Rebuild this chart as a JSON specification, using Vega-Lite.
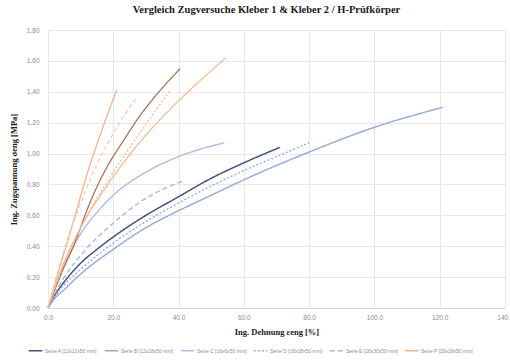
{
  "$schema": "https://vega.github.io/schema/vega-lite/v6.json",
  "width": 457,
  "height": 278,
  "autosize": {"type": "none"},
  "padding": {"left": 48, "top": 30, "right": 5, "bottom": 53},
  "background": "white",
  "title": {
    "text": "Vergleich Zugversuche Kleber 1 & Kleber 2 / H-Prüfkörper",
    "font": "Liberation Serif",
    "fontSize": 10.5,
    "fontWeight": "bold",
    "color": "#1a1a1a",
    "anchor": "middle",
    "offset": 12,
    "dx": -10
  },
  "data": {
    "values": [
      {"s": "Serie A [12x12x50 mm]", "x": 0, "y": 0},
      {"s": "Serie A [12x12x50 mm]", "x": 2, "y": 0.08},
      {"s": "Serie A [12x12x50 mm]", "x": 5, "y": 0.17},
      {"s": "Serie A [12x12x50 mm]", "x": 10, "y": 0.29},
      {"s": "Serie A [12x12x50 mm]", "x": 15, "y": 0.38},
      {"s": "Serie A [12x12x50 mm]", "x": 20, "y": 0.46},
      {"s": "Serie A [12x12x50 mm]", "x": 30, "y": 0.60},
      {"s": "Serie A [12x12x50 mm]", "x": 40, "y": 0.72},
      {"s": "Serie A [12x12x50 mm]", "x": 50, "y": 0.84},
      {"s": "Serie A [12x12x50 mm]", "x": 60, "y": 0.94},
      {"s": "Serie A [12x12x50 mm]", "x": 71, "y": 1.04},

      {"s": "Serie B [12x18x50 mm]", "x": 0, "y": 0},
      {"s": "Serie B [12x18x50 mm]", "x": 2, "y": 0.06},
      {"s": "Serie B [12x18x50 mm]", "x": 5, "y": 0.12},
      {"s": "Serie B [12x18x50 mm]", "x": 10, "y": 0.22},
      {"s": "Serie B [12x18x50 mm]", "x": 20, "y": 0.38},
      {"s": "Serie B [12x18x50 mm]", "x": 30, "y": 0.52},
      {"s": "Serie B [12x18x50 mm]", "x": 40, "y": 0.63},
      {"s": "Serie B [12x18x50 mm]", "x": 50, "y": 0.73},
      {"s": "Serie B [12x18x50 mm]", "x": 60, "y": 0.83},
      {"s": "Serie B [12x18x50 mm]", "x": 80, "y": 1.01},
      {"s": "Serie B [12x18x50 mm]", "x": 100, "y": 1.17},
      {"s": "Serie B [12x18x50 mm]", "x": 121, "y": 1.30},

      {"s": "Serie C [16x6x50 mm]", "x": 0, "y": 0},
      {"s": "Serie C [16x6x50 mm]", "x": 2, "y": 0.12},
      {"s": "Serie C [16x6x50 mm]", "x": 5, "y": 0.28},
      {"s": "Serie C [16x6x50 mm]", "x": 10, "y": 0.48},
      {"s": "Serie C [16x6x50 mm]", "x": 15, "y": 0.62},
      {"s": "Serie C [16x6x50 mm]", "x": 20, "y": 0.73},
      {"s": "Serie C [16x6x50 mm]", "x": 30, "y": 0.88},
      {"s": "Serie C [16x6x50 mm]", "x": 40, "y": 0.98},
      {"s": "Serie C [16x6x50 mm]", "x": 54, "y": 1.07},

      {"s": "Serie D [16x18x50 mm]", "x": 0, "y": 0},
      {"s": "Serie D [16x18x50 mm]", "x": 3, "y": 0.10},
      {"s": "Serie D [16x18x50 mm]", "x": 10, "y": 0.25},
      {"s": "Serie D [16x18x50 mm]", "x": 20, "y": 0.42},
      {"s": "Serie D [16x18x50 mm]", "x": 30, "y": 0.56},
      {"s": "Serie D [16x18x50 mm]", "x": 40, "y": 0.68},
      {"s": "Serie D [16x18x50 mm]", "x": 50, "y": 0.79},
      {"s": "Serie D [16x18x50 mm]", "x": 60, "y": 0.89},
      {"s": "Serie D [16x18x50 mm]", "x": 70, "y": 0.98},
      {"s": "Serie D [16x18x50 mm]", "x": 80, "y": 1.07},

      {"s": "Serie E [16x30x50 mm]", "x": 0, "y": 0},
      {"s": "Serie E [16x30x50 mm]", "x": 2, "y": 0.09},
      {"s": "Serie E [16x30x50 mm]", "x": 5, "y": 0.20},
      {"s": "Serie E [16x30x50 mm]", "x": 10, "y": 0.34},
      {"s": "Serie E [16x30x50 mm]", "x": 20, "y": 0.55},
      {"s": "Serie E [16x30x50 mm]", "x": 30, "y": 0.71},
      {"s": "Serie E [16x30x50 mm]", "x": 41, "y": 0.82},

      {"s": "Serie F [20x18x50 mm]", "x": 0, "y": 0},
      {"s": "Serie F [20x18x50 mm]", "x": 3, "y": 0.22},
      {"s": "Serie F [20x18x50 mm]", "x": 6, "y": 0.43},
      {"s": "Serie F [20x18x50 mm]", "x": 9, "y": 0.65},
      {"s": "Serie F [20x18x50 mm]", "x": 12, "y": 0.87},
      {"s": "Serie F [20x18x50 mm]", "x": 15, "y": 1.06},
      {"s": "Serie F [20x18x50 mm]", "x": 18, "y": 1.24},
      {"s": "Serie F [20x18x50 mm]", "x": 21, "y": 1.41},

      {"s": "Kleber 2 Serie A", "x": 0, "y": 0},
      {"s": "Kleber 2 Serie A", "x": 4, "y": 0.22},
      {"s": "Kleber 2 Serie A", "x": 8, "y": 0.41},
      {"s": "Kleber 2 Serie A", "x": 13, "y": 0.69},
      {"s": "Kleber 2 Serie A", "x": 18, "y": 0.91},
      {"s": "Kleber 2 Serie A", "x": 23, "y": 1.08},
      {"s": "Kleber 2 Serie A", "x": 28, "y": 1.24},
      {"s": "Kleber 2 Serie A", "x": 34, "y": 1.40},
      {"s": "Kleber 2 Serie A", "x": 40.5, "y": 1.55},

      {"s": "Kleber 2 Serie B", "x": 0, "y": 0},
      {"s": "Kleber 2 Serie B", "x": 5, "y": 0.30},
      {"s": "Kleber 2 Serie B", "x": 10, "y": 0.52},
      {"s": "Kleber 2 Serie B", "x": 18, "y": 0.79},
      {"s": "Kleber 2 Serie B", "x": 28, "y": 1.07},
      {"s": "Kleber 2 Serie B", "x": 38, "y": 1.30},
      {"s": "Kleber 2 Serie B", "x": 47, "y": 1.48},
      {"s": "Kleber 2 Serie B", "x": 54.5, "y": 1.62},

      {"s": "Kleber 2 Serie C", "x": 0, "y": 0},
      {"s": "Kleber 2 Serie C", "x": 5, "y": 0.38},
      {"s": "Kleber 2 Serie C", "x": 10, "y": 0.68},
      {"s": "Kleber 2 Serie C", "x": 15, "y": 0.93},
      {"s": "Kleber 2 Serie C", "x": 20, "y": 1.13},
      {"s": "Kleber 2 Serie C", "x": 27, "y": 1.36},

      {"s": "Kleber 2 Serie D", "x": 0, "y": 0},
      {"s": "Kleber 2 Serie D", "x": 5, "y": 0.29},
      {"s": "Kleber 2 Serie D", "x": 10, "y": 0.52},
      {"s": "Kleber 2 Serie D", "x": 20, "y": 0.88},
      {"s": "Kleber 2 Serie D", "x": 30, "y": 1.19},
      {"s": "Kleber 2 Serie D", "x": 37.5, "y": 1.41}
    ]
  },
  "mark": {"type": "line", "clip": false, "interpolate": "monotone"},
  "encoding": {
    "x": {
      "field": "x",
      "type": "quantitative",
      "scale": {"domain": [0, 140], "nice": false},
      "axis": {
        "title": "Ing. Dehnung εeng [%]",
        "values": [0, 20, 40, 60, 80, 100, 120, 140],
        "format": ".1f",
        "labelFlush": false,
        "labelOverlap": false,
        "labelBound": false,
        "ticks": false,
        "labelPadding": 6,
        "titlePadding": 7,
        "domainColor": "#d9d9d9"
      }
    },
    "y": {
      "field": "y",
      "type": "quantitative",
      "scale": {"domain": [0, 1.8], "nice": false},
      "axis": {
        "title": "Ing. Zugspannung σeng [MPa]",
        "values": [0, 0.2, 0.4, 0.6, 0.8, 1.0, 1.2, 1.4, 1.6, 1.8],
        "format": ".2f",
        "ticks": false,
        "domain": false,
        "labelPadding": 9,
        "titlePadding": 8
      }
    },
    "color": {
      "field": "s",
      "type": "nominal",
      "scale": {
        "domain": ["Serie A [12x12x50 mm]", "Serie B [12x18x50 mm]", "Serie C [16x6x50 mm]", "Serie D [16x18x50 mm]", "Serie E [16x30x50 mm]", "Serie F [20x18x50 mm]", "Kleber 2 Serie A", "Kleber 2 Serie B", "Kleber 2 Serie C", "Kleber 2 Serie D"],
        "range": ["#46517c", "#94acd9", "#aebfe0", "#94acd9", "#a3b7dd", "#f2b38a", "#a6714f", "#f4b890", "#f6c6a6", "#f2b690"]
      },
      "legend": {
        "values": ["Serie A [12x12x50 mm]", "Serie B [12x18x50 mm]", "Serie C [16x6x50 mm]", "Serie D [16x18x50 mm]", "Serie E [16x30x50 mm]", "Serie F [20x18x50 mm]"]
      }
    },
    "strokeDash": {
      "field": "s",
      "type": "nominal",
      "scale": {
        "domain": ["Serie A [12x12x50 mm]", "Serie B [12x18x50 mm]", "Serie C [16x6x50 mm]", "Serie D [16x18x50 mm]", "Serie E [16x30x50 mm]", "Serie F [20x18x50 mm]", "Kleber 2 Serie A", "Kleber 2 Serie B", "Kleber 2 Serie C", "Kleber 2 Serie D"],
        "range": [[1, 0], [1, 0], [1, 0], [2, 2], [5, 3], [1, 0], [1, 0], [1, 0], [4, 3], [2, 2]]
      },
      "legend": {
        "values": ["Serie A [12x12x50 mm]", "Serie B [12x18x50 mm]", "Serie C [16x6x50 mm]", "Serie D [16x18x50 mm]", "Serie E [16x30x50 mm]", "Serie F [20x18x50 mm]"]
      }
    },
    "strokeWidth": {
      "field": "s",
      "type": "nominal",
      "scale": {
        "domain": ["Serie A [12x12x50 mm]", "Serie B [12x18x50 mm]", "Serie C [16x6x50 mm]", "Serie D [16x18x50 mm]", "Serie E [16x30x50 mm]", "Serie F [20x18x50 mm]", "Kleber 2 Serie A", "Kleber 2 Serie B", "Kleber 2 Serie C", "Kleber 2 Serie D"],
        "range": [1.5, 1.1, 1.1, 1.1, 1.0, 1.1, 1.5, 1.1, 1.0, 1.1]
      },
      "legend": null
    }
  },
  "config": {
    "view": {"stroke": null},
    "axis": {
      "labelFont": "Liberation Sans",
      "labelFontSize": 6.5,
      "labelColor": "#8c8c8c",
      "titleFont": "Liberation Serif",
      "titleFontSize": 8.5,
      "titleFontWeight": "bold",
      "titleColor": "#1a1a1a",
      "gridColor": "#e8e8e8",
      "gridWidth": 1
    },
    "legend": {
      "orient": "none",
      "legendX": -20,
      "legendY": 313,
      "direction": "horizontal",
      "columns": 6,
      "title": null,
      "symbolType": "stroke",
      "symbolSize": 180,
      "labelFont": "Liberation Sans",
      "labelFontSize": 5,
      "labelColor": "#8c8c8c",
      "labelLimit": 70,
      "columnPadding": 4,
      "symbolOffset": 0,
      "labelOffset": 2
    }
  }
}
